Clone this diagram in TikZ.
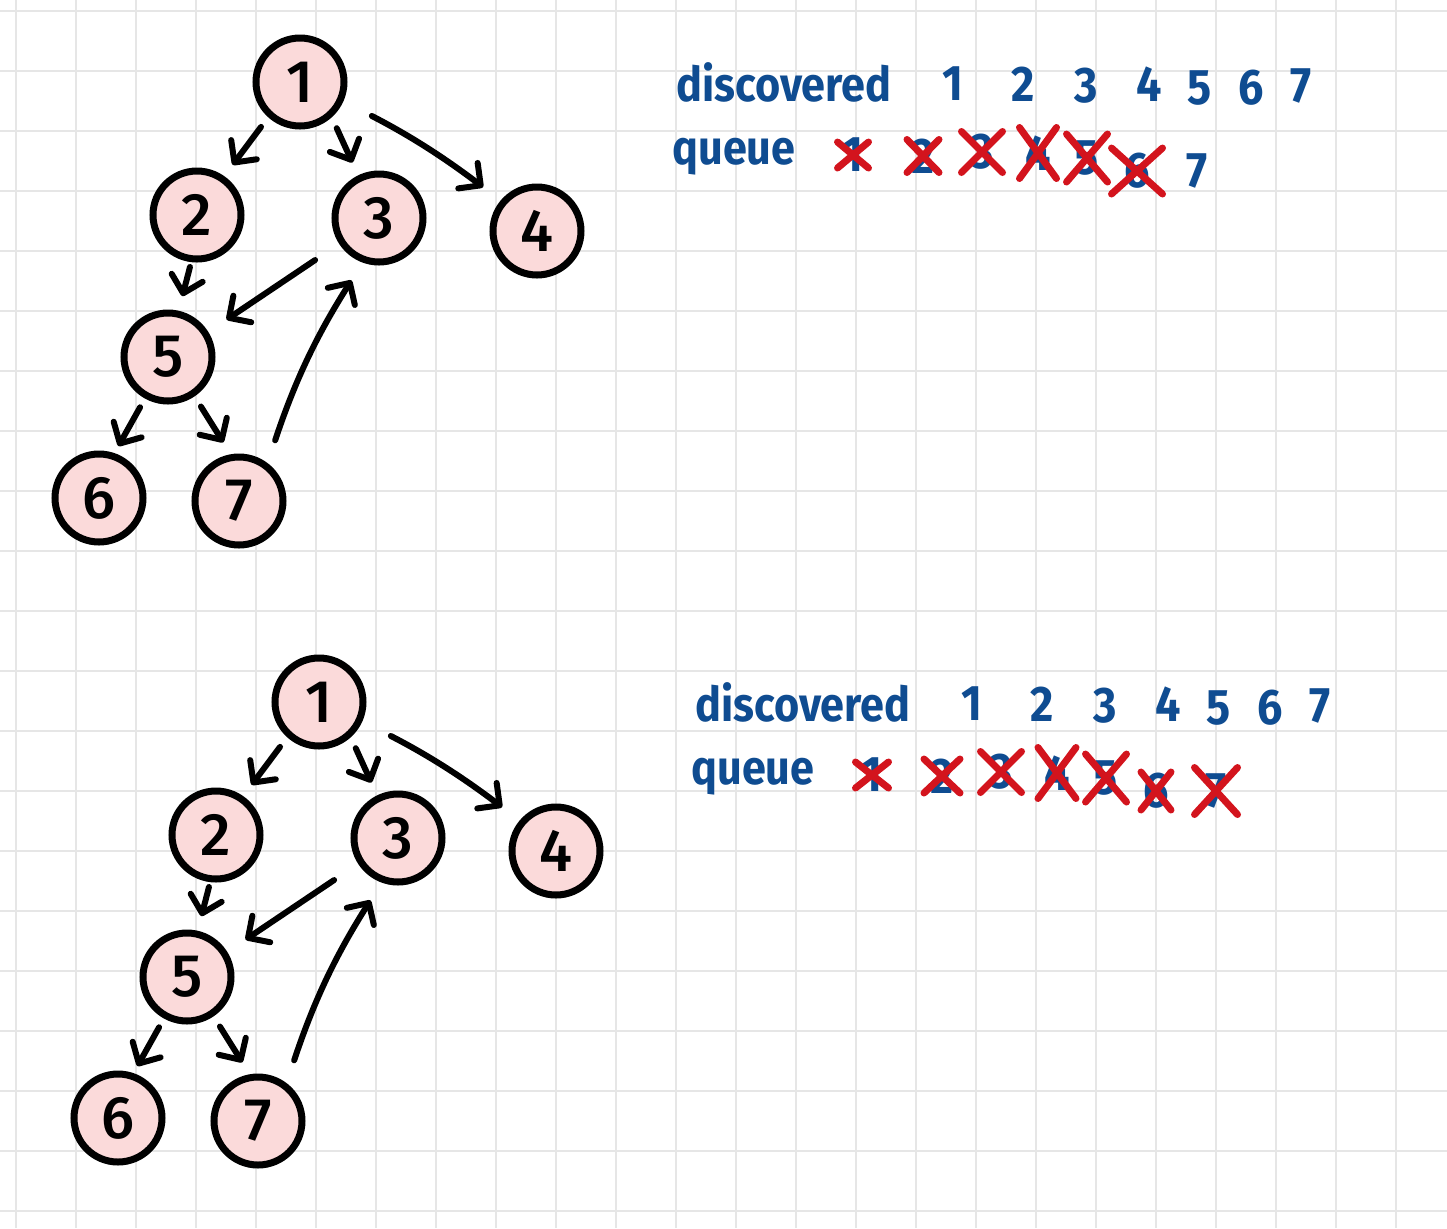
\documentclass[tikz,border=0pt]{standalone}
\usepackage{fontspec}
\setmainfont{Fira Sans}
\newfontfamily\handfont{Fira Sans}[FakeStretch=0.9]
\newfontfamily\nodefont{Fira Sans Medium}
\usepackage{tikz}
\usetikzlibrary{arrows.meta,shapes.misc}
\definecolor{inkblue}{HTML}{0F4C91}
\definecolor{inkred}{HTML}{D3141D}
\definecolor{nodefill}{HTML}{FBDADA}
\definecolor{gridgray}{HTML}{E6E6E6}

\begin{document}
\begin{tikzpicture}[
  x=0.5pt, y=-0.5pt,
  vertex/.style={
    circle, draw=black, line width=3.5pt, fill=nodefill,
    minimum size=44pt, inner sep=0pt,
    font=\nodefont\fontsize{30}{30}\selectfont
  },
  arr/.style={
    -{Straight Barb[length=8pt,width=16pt,round]}, line width=3pt,
    line cap=round, shorten <=6pt, shorten >=7pt
  },
  hand/.style={text=inkblue, inner sep=0pt, font=\handfont\bfseries\fontsize{24}{24}\selectfont},
  digit/.style={text=inkblue, inner sep=0pt, font=\handfont\bfseries\fontsize{25}{25}\selectfont},
  strike/.style={cross out, draw=inkred, line width=3.5pt, line cap=round, inner sep=0pt},
  gridline/.style={draw=gridgray, line width=1pt}
]
  % squared paper
  \fill[white] (0,0) rectangle (1447,1228);
  \useasboundingbox (0,0) rectangle (1447,1228);
  \foreach \gx in {16,76,...,1396} \draw[gridline] (\gx,0) -- (\gx,1228);
  \foreach \gy in {11,71,...,1211} \draw[gridline] (0,\gy) -- (1447,\gy);

  % the same graph twice, with its discovered list and queue
  \foreach \p/\sx/\sy in {a/0/0,b/19/620}{
    \begin{scope}[shift={(\sx,\sy)}]
      \node[vertex] (\p1) at (300,82)  {1};
      \node[vertex] (\p2) at (197,215) {2};
      \node[vertex] (\p3) at (379,218) {3};
      \node[vertex] (\p4) at (537,231) {4};
      \node[vertex] (\p5) at (168,357) {5};
      \node[vertex] (\p6) at (99,498)  {6};
      \node[vertex] (\p7) at (239,501) {7};

      \draw[arr] (\p1.-132) -- (\p2.55);
      \draw[arr] (\p1.-48) -- (\p3.116);
      \draw[arr, shorten <=16pt, shorten >=11pt] (\p1.-24) to[bend left=5] (\p4.140);
      \draw[arr, shorten <=2.5pt, shorten >=7.5pt] (\p2.-97) -- (\p5.77);
      \draw[arr, shorten <=14.5pt, shorten >=11pt] (\p3.-147) -- (\p5.32);
      \draw[arr, shorten <=12pt, shorten >=10.5pt] (\p7.53) to[bend left=7] (\p3.-110);
      \draw[arr, shorten <=5pt, shorten >=4pt] (\p5.-119) -- (\p6.71);
      \draw[arr] (\p5.-56) -- (\p7.100);

      \node[hand, anchor=base west] (\p-disc)  at (676,101) {discovered};
      \node[hand, anchor=base west] (\p-queue) at (672,164) {queue};
      \foreach \i/\dx/\dy in {1/953/84,2/1023/84,3/1086/86,4/1149/84,5/1200/88,6/1251/88,7/1301/86}
        \node[digit] (\p-d\i) at (\dx,\dy) {\i};
      \foreach \i/\qx/\qy in {1/853/155,2/923/156,3/982/152,4/1038/153,5/1087/158,6/1137/171,7/1197/171}
        \node[digit] (\p-q\i) at (\qx,\qy) {\i};
    \end{scope}
  }

  % crossed out of the queue
  \foreach \i/\w/\h in {1/24/19,2/25/26,3/34/34,4/30/44,5/34/41,6/44/39}
    \node[strike, minimum width=\w*0.5pt, minimum height=\h*0.5pt] (a-x\i) at (a-q\i) {};
  \foreach \i/\w/\h in {1/26/19,2/29/27,3/34/34,4/31/44,5/34/41,6/23/31,7/36/40}
    \node[strike, minimum width=\w*0.5pt, minimum height=\h*0.5pt] (b-x\i) at (b-q\i) {};
\end{tikzpicture}
\end{document}
